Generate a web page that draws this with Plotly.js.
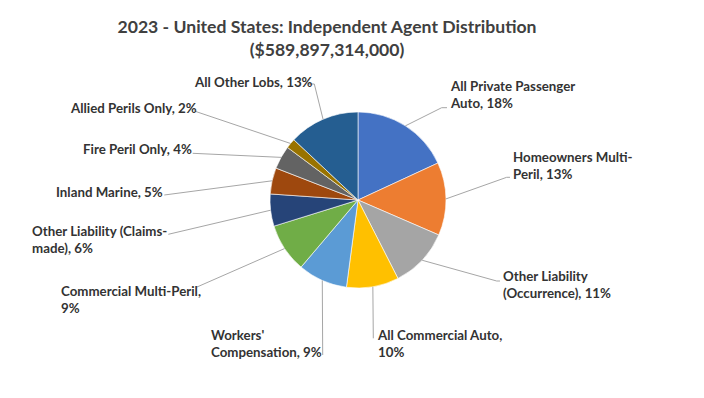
<!DOCTYPE html>
<html>
<head>
<meta charset="utf-8">
<script src="https://cdn.plot.ly/plotly-3.0.1.min.js"></script>
<style>html,body{margin:0;padding:0;background:#fff;}#chart{width:704px;height:398px;}</style>
</head>
<body>
<div id="chart"></div>
<script>
// ---- data ----
var categories = [
  'All Private Passenger Auto',
  'Homeowners Multi-Peril',
  'Other Liability (Occurrence)',
  'All Commercial Auto',
  "Workers' Compensation",
  'Commercial Multi-Peril',
  'Other Liability (Claims-made)',
  'Inland Marine',
  'Fire Peril Only',
  'Allied Perils Only',
  'All Other Lobs'
];
var shares = [18.1, 13.4, 11.0, 9.6, 9.1, 9.0, 5.9, 4.8, 4.3, 1.8, 13.0];
var colors = ['#4472C4', '#ED7D31', '#A5A5A5', '#FFC000', '#5B9BD5', '#70AD47',
              '#264478', '#9E480E', '#636363', '#997300', '#255E91'];
var titleText = '2023 - United States: Independent Agent Distribution<br>($589,897,314,000)';

// ---- layout helpers (pixel geometry) ----
var W = 704, H = 398;
var cx = 358, cy = 200, R = 88;
// label placement: text anchor point, first-line break prefix, leader path points
var labelCfg = [
  {x: 449,   y: 94.5,  brk: 'All Private Passenger', pts: [[441.7,107.7],[447,107.7]]},
  {x: 511.7, y: 165.5, brk: 'Homeowners Multi-',     pts: [[506.7,177.3],[510,177.3]]},
  {x: 502.3, y: 284.7, brk: 'Other Liability',       pts: [[496.7,281],[500,281]]},
  {x: 376,   y: 343.3, brk: 'All Commercial Auto,',  pts: [[373.3,338.3]]},
  {x: 210,   y: 343.3, brk: "Workers'",              pts: [[322.7,355]]},
  {x: 60,    y: 299,   brk: 'Commercial Multi-Peril,', pts: [[197,287]]},
  {x: 30.7,  y: 240,   brk: 'Other Liability (Claims-', pts: [[168.3,234.3]]},
  {x: 55,    y: 191.7, brk: null,                    pts: [[164.3,195]]},
  {x: 81.7,  y: 149.3, brk: null,                    pts: [[192.7,153.3]]},
  {x: 69.3,  y: 108.3, brk: null,                    pts: [[194.3,111]]},
  {x: 192.7, y: 81.7,  brk: null,                    pts: [[314.3,84],[308.3,84]]}
];

function px(x) { return x / W; }
function py(y) { return 1 - y / H; }

var total = shares.reduce(function (a, b) { return a + b; }, 0);
var annotations = [];
var shapes = [];
var cum = 0;
for (var i = 0; i < shares.length; i++) {
  var mid = (cum + shares[i] / 2) / total * 2 * Math.PI;
  cum += shares[i];
  var sx = cx + R * Math.sin(mid);
  var sy = cy - R * Math.cos(mid);
  var pct = Math.round(shares[i] / total * 100);
  var full = categories[i] + ', ' + pct + '%';
  var cfg = labelCfg[i];
  var txt = full;
  if (cfg.brk) {
    var n = cfg.brk.length;
    txt = full.slice(0, n) + '<br>' + full.slice(n).replace(/^\s+/, '');
  }
  annotations.push({
    xref: 'paper', yref: 'paper', x: px(cfg.x), y: py(cfg.y),
    xanchor: 'left', yanchor: 'middle', align: 'left', showarrow: false,
    text: txt, borderpad: 0,
    font: {family: 'Lato, sans-serif', size: 13.3, color: '#333333', weight: 'bold'}
  });
  var path = 'M' + px(sx) + ',' + py(sy);
  cfg.pts.forEach(function (p) { path += ' L' + px(p[0]) + ',' + py(p[1]); });
  shapes.push({type: 'path', xref: 'paper', yref: 'paper', path: path,
    line: {color: '#A6A6A6', width: 1}});
}

var trace = {
  type: 'pie',
  labels: categories,
  values: shares,
  sort: false,
  direction: 'clockwise',
  rotation: 0,
  textinfo: 'none',
  hoverinfo: 'label+percent',
  marker: {colors: colors, line: {color: '#FFFFFF', width: 0.6}},
  domain: {x: [(cx - R) / W, (cx + R) / W], y: [1 - (cy + R) / H, 1 - (cy - R) / H]},
  showlegend: false
};

var layout = {
  width: W, height: H,
  margin: {l: 0, r: 0, t: 0, b: 0},
  paper_bgcolor: '#FFFFFF',
  title: {
    text: titleText,
    x: 327 / W, xanchor: 'center', xref: 'paper',
    y: 1 - 33 / H, yanchor: 'middle', yref: 'paper',
    font: {family: 'Lato, sans-serif', size: 17.6, color: '#404040', weight: 'bold'}
  },
  annotations: annotations,
  shapes: shapes,
  showlegend: false
};

Plotly.newPlot('chart', [trace], layout, {displayModeBar: false, staticPlot: true});
</script>
</body>
</html>
